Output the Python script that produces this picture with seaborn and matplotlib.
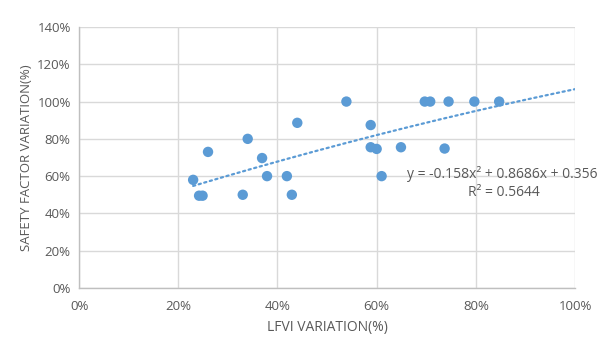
import numpy as np
import pandas as pd
import matplotlib
matplotlib.use("Agg")
import matplotlib.pyplot as plt
import seaborn as sns
from matplotlib.ticker import PercentFormatter, MultipleLocator

# LFVI variation vs safety factor variation (fractions)
lfvi_variation = [0.230, 0.242, 0.249, 0.260, 0.330, 0.340, 0.369, 0.379, 0.419,
                  0.429, 0.440, 0.539, 0.588, 0.588, 0.600, 0.610, 0.649, 0.697,
                  0.708, 0.737, 0.745, 0.797, 0.847]
safety_factor_variation = [0.58, 0.495, 0.495, 0.73, 0.50, 0.80, 0.697, 0.60, 0.60,
                           0.50, 0.886, 1.00, 0.874, 0.755, 0.746, 0.60, 0.755, 1.00,
                           1.00, 0.748, 1.00, 1.00, 1.00]

# Polynomial trendline coefficients (order 2)
trend_a, trend_b, trend_c = -0.158, 0.8686, 0.356
r_squared = 0.5644

df = pd.DataFrame({"lfvi": lfvi_variation, "sf": safety_factor_variation})

sns.set_theme(style="white")
plt.rcParams["font.family"] = ["Open Sans", "DejaVu Sans"]

text_color = "#595959"
grid_color = "#d9d9d9"
blue = "#5B9BD5"

fig = plt.figure(figsize=(5.99, 3.42), dpi=100)
ax = fig.add_axes([0.132, 0.158, 0.828, 0.763])

# Dotted trendline, extended forward to 100%
xt = np.linspace(min(lfvi_variation), 1.0, 200)
yt = trend_a * xt**2 + trend_b * xt + trend_c
sns.lineplot(x=xt, y=yt, ax=ax, color=blue, linewidth=1.6,
             linestyle=(0, (1, 1.6)), dash_capstyle="round", zorder=2)

sns.scatterplot(data=df, x="lfvi", y="sf", ax=ax, color=blue, s=56,
                edgecolor="none", linewidth=0, zorder=3)

ax.set_xlim(0, 1.0)
ax.set_ylim(0, 1.4)
ax.xaxis.set_major_locator(MultipleLocator(0.2))
ax.yaxis.set_major_locator(MultipleLocator(0.2))
ax.xaxis.set_major_formatter(PercentFormatter(1.0, decimals=0))
ax.yaxis.set_major_formatter(PercentFormatter(1.0, decimals=0))

ax.grid(True, color=grid_color, linewidth=1.0)
ax.set_axisbelow(True)
for side in ["top", "right"]:
    ax.spines[side].set_visible(False)
for side in ["left", "bottom"]:
    ax.spines[side].set_color("#bfbfbf")
    ax.spines[side].set_linewidth(1.0)

ax.tick_params(axis="both", which="major", labelsize=9.5, colors=text_color,
               length=4, width=1.0, color="#bfbfbf", direction="out", pad=5)
ax.tick_params(axis="y", pad=2)

ax.set_xlabel("LFVI VARIATION(%)", fontsize=10, color=text_color, labelpad=5)
ax.set_ylabel("SAFETY FACTOR VARIATION(%)", fontsize=9.5, color=text_color, labelpad=3)

ax.text(1.045, 0.611, f"y = {trend_a}x² + {trend_b}x + {trend_c}", fontsize=10,
        color=text_color, ha="right", va="center", transform=ax.transData,
        clip_on=False)
ax.text(0.929, 0.51, f"R² = {r_squared}", fontsize=10, color=text_color,
        ha="right", va="center", transform=ax.transData, clip_on=False)

fig.savefig("out.png", dpi=100, facecolor="white")
